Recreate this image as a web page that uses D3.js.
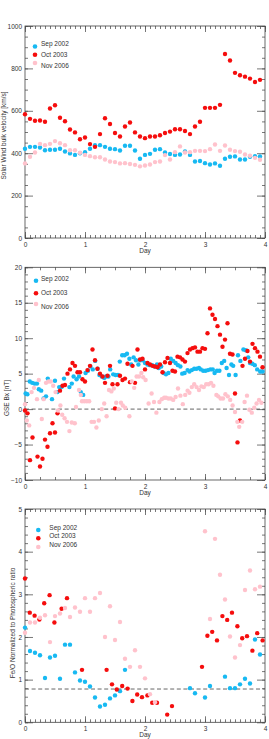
<!DOCTYPE html>
<html>
<head>
<meta charset="utf-8">
<script src="https://cdn.jsdelivr.net/npm/d3@7"></script>
<style>
body { margin: 0; background: #fff; }
svg { display: block; font-family: "Liberation Sans", Arial, sans-serif; }
</style>
</head>
<body>
<div class="graph"></div>
<script>
//Series names and colours
const seriesNames = ["Sep 2002", "Oct 2003", "Nov 2006"];
const seriesColors = ["#17b9f2", "#f50d0d", "#ffc2cc"];
const dayTicks = [0, 1, 2, 3, 4];

//Panel 1: solar wind speed, one point every 2 hours
const speedDays = d3.range(48).map(i => i / 12);
const speedSep = [421,430,430,427,414,416,416,421,408,399,392,400,405,421,438,438,430,421,419,413,435,435,413,374,
                  392,397,416,419,403,396,392,394,408,392,361,363,353,347,352,341,374,383,385,370,370,383,386,385];
const speedOct = [584,562,553,554,548,611,626,567,551,512,498,466,474,443,430,490,565,538,495,479,526,545,498,479,
                  471,479,479,485,495,502,513,513,505,490,526,548,614,614,614,628,868,837,779,768,761,752,736,746];
const speedNov = [352,383,403,444,438,444,457,447,438,414,414,402,392,386,381,381,370,361,358,352,353,349,345,338,
                  342,347,358,361,391,370,405,432,403,405,411,411,410,419,441,411,436,416,410,407,394,388,378,369];
const speedTicks = [0, 200, 400, 600, 800, 1000];

//Panel 2: GSE Bx
const bxSepDay = [0.01,0.04,0.08,0.12,0.16,0.20,0.23,0.27,0.31,0.35,0.38,0.45,0.50,0.54,0.57,0.61,0.65,0.74,0.78,0.81,
                  0.86,0.90,0.93,0.97,1.01,1.05,1.09,1.13,1.17,1.21,1.24,1.28,1.32,1.35,1.39,1.42,1.47,1.51,1.55,1.58,
                  1.62,1.66,1.70,1.74,1.77,1.81,1.85,1.89,1.92,1.96,2.00,2.04,2.08,2.12,2.16,2.20,2.23,2.27,2.31,2.35,
                  2.39,2.43,2.47,2.51,2.55,2.59,2.62,2.66,2.71,2.74,2.78,2.82,2.86,2.90,2.93,2.97,3.01,3.05,3.09,3.13,
                  3.16,3.20,3.24,3.28,3.32,3.36,3.40,3.44,3.47,3.51,3.55,3.59,3.64,3.68,3.72,3.75,3.79,3.83,3.87,3.92,3.96];
const bxSep = [2.2,2.1,3.9,3.7,3.6,3.6,2.8,2.6,1.5,1.8,4.3,1.4,4.0,2.4,3.1,3.1,4.3,3.1,3.6,4.6,
               4.2,4.6,2.4,2.0,5.1,5.4,6.0,5.6,6.8,5.7,4.8,4.6,4.4,4.6,4.6,5.6,4.9,4.8,4.8,6.7,
               7.6,7.6,7.8,7.1,6.3,7.3,6.9,6.3,6.9,6.9,6.5,6.3,6.2,6.2,6.0,6.3,5.8,6.0,5.1,4.9,
               5.1,7.1,6.8,6.5,6.2,6.0,5.0,5.1,5.5,5.3,5.5,5.7,5.7,5.8,5.6,5.4,5.4,5.5,5.6,5.6,
               5.1,5.4,5.4,6.5,6.8,5.8,4.8,6.3,6.1,4.8,7.6,6.8,8.4,8.3,7.3,6.5,6.4,6.2,5.6,5.3,5.3];
const bxOctDay = d3.range(96).map(i => i / 24);
const bxOct = [-0.2,-0.6,-7.2,-4.0,null,-6.7,-8.1,-7.0,-4.3,-5.3,-3.4,-2.0,-3.3,-0.6,2.6,3.3,3.4,5.0,5.6,6.5,
               6.1,5.2,5.2,4.2,3.9,5.5,6.1,8.4,6.9,5.7,5.0,4.6,3.7,4.7,6.1,3.5,0.1,3.5,4.7,4.1,
               4.3,6.4,3.8,6.1,3.7,8.4,7.0,7.1,5.6,6.5,6.3,6.1,6.0,5.9,6.3,5.2,6.6,7.2,6.5,5.4,
               5.3,7.4,7.3,7.0,6.7,7.9,8.4,8.6,8.7,8.1,8.1,8.6,8.5,10.7,14.2,13.3,12.7,11.7,10.5,8.8,
               9.8,12.1,7.8,7.7,2.2,-4.7,-1.6,6.1,7.1,8.2,6.7,9.2,8.6,8.1,7.4,5.9];
const bxNovDay = [0.00,0.03,0.07,0.11,0.15,0.20,0.23,0.28,0.31,0.35,0.39,0.43,0.47,0.51,0.55,0.59,0.62,0.66,0.70,0.74,
                  0.78,0.83,0.85,0.90,0.93,0.95,0.99,1.03,1.07,1.11,1.15,1.19,1.23,1.28,1.32,1.36,1.40,1.44,1.48,1.52,
                  1.56,1.60,1.63,1.67,1.74,1.78,1.82,1.86,1.90,1.94,1.97,2.01,2.06,2.11,2.15,2.19,2.24,2.28,2.32,2.35,
                  2.39,2.43,2.47,2.51,2.55,2.59,2.63,2.67,2.71,2.74,2.78,2.82,2.86,2.90,2.94,2.98,3.02,3.06,3.10,3.14,
                  3.19,3.22,3.26,3.30,3.34,3.38,3.42,3.46,3.50,3.54,3.57,3.62,3.66,3.70,3.74,3.78,3.82,3.86,3.90,3.94];
const bxNov = [0.7,-1.6,-2.3,2.4,3.0,1.4,4.1,-1.4,1.4,3.7,3.9,3.9,3.3,2.4,-0.2,0.5,-0.8,-1.3,-1.8,-3.1,
               -1.9,-2.0,0.3,2.7,2.0,1.1,1.1,1.1,1.1,-1.8,-1.8,-2.6,-1.6,0.0,0.8,-1.0,2.7,2.5,2.9,0.9,
               0.0,0.9,0.5,0.2,-1.0,3.9,3.0,4.6,4.6,5.1,4.5,4.1,0.8,2.2,1.0,-0.5,1.0,1.4,1.6,1.6,
               1.5,1.5,1.3,1.7,2.9,1.9,0.7,2.0,2.6,2.3,3.1,3.5,3.1,2.7,3.2,3.1,3.5,3.5,3.7,3.3,
               2.0,1.8,1.5,1.5,2.1,1.8,1.3,0.5,-0.4,-1.8,-2.5,-1.8,1.0,1.9,-0.1,-0.5,0.2,0.8,1.3,0.9];
const bxTicks = [-10, -5, 0, 5, 10, 15, 20];

//Panel 3: Fe/O ratio, gaps are null
const feSep = [2.22,1.67,1.63,1.57,1.04,1.52,1.56,1.02,1.82,1.82,1.17,0.98,0.95,0.84,0.58,0.37,0.41,0.56,0.63,0.73,1.23,
               null,null,null,null,null,null,null,null,null,null,null,null,
               0.80,0.68,null,0.58,0.85,null,null,1.07,0.80,0.80,0.89,1.02,0.91,1.94,1.59];
const feOctDay = [0.00,0.08,0.16,0.24,0.32,0.41,0.49,0.61,0.70,0.95,1.36,1.45,1.53,1.62,1.71,1.79,1.87,1.95,2.04,2.12,
                  2.20,2.37,2.45,2.95,3.04,3.12,3.20,3.29,3.37,3.45,3.54,3.62,3.70,3.79,3.87,3.96];
const feOct = [3.37,2.57,2.50,2.41,2.79,2.98,2.34,2.66,2.91,1.23,1.23,0.89,0.77,0.85,0.79,0.50,0.65,0.59,0.63,0.46,
               0.46,0.18,0.38,1.30,2.03,2.12,1.92,2.49,2.40,2.57,2.25,1.97,2.02,1.68,2.09,1.92];
const feNov = [2.10,2.34,2.34,2.45,2.51,1.88,2.49,2.55,2.68,2.47,2.69,2.59,2.91,2.59,2.91,3.03,2.00,2.72,1.93,2.35,
               1.49,1.30,1.69,1.30,1.03,0.66,0.47,null,null,null,null,null,null,null,null,null,
               4.48,2.42,4.30,3.46,2.88,2.01,1.52,1.81,3.10,3.56,3.12,3.18];
const feTicks = [0, 1, 2, 3, 4, 5];
const feRefLine = 0.78;

let WIDTH = 269,
    HEIGHT = 739,
    LEFT = 25,
    RIGHT = 265;

let svg = d3
    .select(".graph")
    .append("svg")
    .attr("width", WIDTH)
    .attr("height", HEIGHT);

svg.append("rect").attr("width", WIDTH).attr("height", HEIGHT).attr("fill", "#fff");

let xScale = d3.scaleLinear().domain([0, 4]).range([LEFT, RIGHT]);

function pairs(days, values){
    return days.map((d, i) => ({day: d, value: values[i]})).filter(p => p.value !== null);
}

//Draws one framed panel
function drawPanel(p){
    let g = svg.append("g").attr("color", "#333");
    let yScale = d3.scaleLinear().domain(p.yDomain).range([p.bottom, p.top]);

    let xMinor = d3.range(0, 4.0001, 1 / p.xMinorPerDay);
    let yMinor = d3.range(p.yDomain[0], p.yDomain[1] + 1e-6, p.yMinorStep);

    const styleAxis = sel => {
        sel.select(".domain").remove();
        sel.selectAll("line").attr("stroke", "#555").attr("stroke-width", 0.8);
        sel.attr("font-size", 6.5).attr("font-family", "Liberation Sans, Arial, sans-serif");
        sel.selectAll("text").attr("fill", "#333");
    };

    //minor ticks on all four sides, pointing inwards
    g.append("g").attr("transform", `translate(0, ${p.bottom})`)
        .call(d3.axisBottom(xScale).tickValues(xMinor).tickFormat("").tickSize(-3)).call(styleAxis);
    g.append("g").attr("transform", `translate(0, ${p.top})`)
        .call(d3.axisTop(xScale).tickValues(xMinor).tickFormat("").tickSize(-3)).call(styleAxis);
    g.append("g").attr("transform", `translate(${LEFT}, 0)`)
        .call(d3.axisLeft(yScale).tickValues(yMinor).tickFormat("").tickSize(-3)).call(styleAxis);
    g.append("g").attr("transform", `translate(${RIGHT}, 0)`)
        .call(d3.axisRight(yScale).tickValues(yMinor).tickFormat("").tickSize(-3)).call(styleAxis);

    //major ticks with labels
    g.append("g").attr("transform", `translate(0, ${p.bottom})`)
        .call(d3.axisBottom(xScale).tickValues(dayTicks).tickFormat(d3.format("d")).tickSizeInner(-6).tickSizeOuter(0).tickPadding(4))
        .call(styleAxis);
    g.append("g").attr("transform", `translate(0, ${p.top})`)
        .call(d3.axisTop(xScale).tickValues(dayTicks).tickFormat("").tickSize(-6)).call(styleAxis);
    g.append("g").attr("transform", `translate(${LEFT}, 0)`)
        .call(d3.axisLeft(yScale).tickValues(p.yTicks).tickFormat(d3.format("d")).tickSizeInner(-8).tickSizeOuter(0).tickPadding(3))
        .call(styleAxis);
    g.append("g").attr("transform", `translate(${RIGHT}, 0)`)
        .call(d3.axisRight(yScale).tickValues(p.yTicks).tickFormat("").tickSize(-8)).call(styleAxis);

    //frame
    g.append("rect")
        .attr("x", LEFT).attr("y", p.top)
        .attr("width", RIGHT - LEFT).attr("height", p.bottom - p.top)
        .attr("fill", "none").attr("stroke", "#444").attr("stroke-width", 0.8);

    //dashed reference line
    if (p.refLine !== undefined){
        g.append("line")
            .attr("x1", xScale(0)).attr("x2", xScale(4))
            .attr("y1", yScale(p.refLine)).attr("y2", yScale(p.refLine))
            .attr("stroke", "#555").attr("stroke-width", 0.9)
            .attr("stroke-dasharray", "4,2.6");
    }

    //points
    p.series.forEach((s, k) => {
        g.append("g")
            .selectAll("circle")
            .data(pairs(s.days, s.values))
            .enter()
            .append("circle")
            .attr("cx", d => xScale(d.day))
            .attr("cy", d => yScale(d.value))
            .attr("r", 2.2)
            .style("fill", seriesColors[k]);
    });

    //legend
    seriesNames.forEach((name, k) => {
        g.append("circle")
            .attr("cx", p.legend.mx).attr("cy", p.legend.my[k])
            .attr("r", 2.3).style("fill", seriesColors[k]);
        g.append("text")
            .attr("x", p.legend.tx).attr("y", p.legend.ty[k])
            .attr("dy", "0.35em")
            .attr("font-size", 6.5).attr("fill", "#333")
            .text(name);
    });

    //axis titles
    g.append("text")
        .attr("x", (LEFT + RIGHT) / 2).attr("y", p.bottom + 15)
        .attr("text-anchor", "middle").attr("font-size", 6.5).attr("fill", "#333")
        .text("Day");
    g.append("text")
        .attr("transform", `translate(${p.labelX}, ${p.labelY}) rotate(-90)`)
        .attr("text-anchor", "middle").attr("dy", "0.35em")
        .attr("font-size", 6.5).attr("fill", "#333")
        .text(p.label);
}

drawPanel({
    top: 26, bottom: 238,
    yDomain: [0, 1000], yTicks: speedTicks, yMinorStep: 50, xMinorPerDay: 12,
    series: [
        {days: speedDays, values: speedSep},
        {days: speedDays, values: speedOct},
        {days: speedDays, values: speedNov}
    ],
    legend: {mx: 35, my: [46.5, 54.7, 63], tx: 41, ty: [43.5, 54.7, 65.7]},
    label: "Solar Wind bulk velocity [km/s]", labelX: 4, labelY: 135.5
});

drawPanel({
    top: 267.3, bottom: 480,
    yDomain: [-10, 20], yTicks: bxTicks, yMinorStep: 1, xMinorPerDay: 4,
    refLine: 0,
    series: [
        {days: bxSepDay, values: bxSep},
        {days: bxOctDay, values: bxOct},
        {days: bxNovDay, values: bxNov}
    ],
    legend: {mx: 36, my: [280.7, 293.3, 304], tx: 41, ty: [279, 292.7, 306.7]},
    label: "GSE Bx [nT]", labelX: 7, labelY: 398
});

drawPanel({
    top: 509, bottom: 722.3,
    yDomain: [0, 5], yTicks: feTicks, yMinorStep: 0.2, xMinorPerDay: 12,
    refLine: feRefLine,
    series: [
        {days: speedDays, values: feSep},
        {days: feOctDay, values: feOct},
        {days: speedDays, values: feNov}
    ],
    legend: {mx: 38.3, my: [530, 538.3, 547], tx: 49.3, ty: [527.3, 536, 545]},
    label: "Fe/O Normalized to Photospheric ratio", labelX: 13, labelY: 623
});
</script>
</body>
</html>
